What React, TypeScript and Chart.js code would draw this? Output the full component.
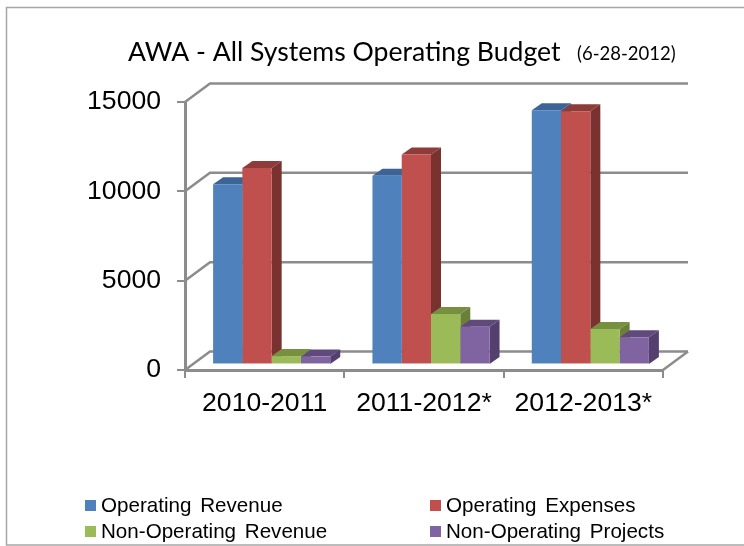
import React, { useEffect, useRef } from "react";
import { Chart, registerables } from "chart.js";

Chart.register(...registerables);

const categories = ["2010-2011", "2011-2012*", "2012-2013*"];
const operatingRevenue = [10120, 10590, 14260];
const operatingExpenses = [11030, 11780, 14200];
const nonOperatingRevenue = [500, 2850, 2010];
const nonOperatingProjects = [470, 2140, 1550];
const yTicks = [0, 5000, 10000, 15000];

const titleMain = "AWA - All Systems Operating Budget";
const titleDate = "(6-28-2012)";

const DEPTH_X = 10;
const DEPTH_Y = 7;
const SHIFT_X = 7;
const SHIFT_Y = -5;
const WALL_X = 25;
const WALL_Y = -18.5;
const GRID = "#8c8c8c";

const shades = [
  { front: "#4f81bd", top: "#3c6496", side: "#375a86" },
  { front: "#c0504d", top: "#8f3b39", side: "#7a3230" },
  { front: "#9bbb59", top: "#76903f", side: "#6a8039" },
  { front: "#8064a2", top: "#604a7b", side: "#543f6e" },
];

const frame = {
  id: "frame",
  beforeDraw(chart: any) {
    const c = chart.ctx;
    c.save();
    c.fillStyle = "#ffffff";
    c.fillRect(0, 0, chart.width, chart.height);
    c.strokeStyle = "#a6a6a6";
    c.lineWidth = 1.5;
    c.strokeRect(6.5, 7.5, 760, 537.5);
    c.fillStyle = "#000";
    c.textBaseline = "alphabetic";
    c.textAlign = "left";
    c.font = '26.6px "Lato"';
    c.fillText(titleMain, 128, 61);
    c.font = '18.5px "Lato"';
    c.fillText(titleDate, 577, 60);
    c.restore();
  },
};

const walls = {
  id: "walls",
  beforeDatasetsDraw(chart: any) {
    const c = chart.ctx;
    const { left, right, bottom } = chart.chartArea;
    const y = chart.scales.y;
    c.save();
    c.strokeStyle = GRID;
    c.lineWidth = 2.5;
    y.ticks.forEach((t: any) => {
      const py = y.getPixelForValue(t.value);
      c.beginPath();
      c.moveTo(left, py);
      c.lineTo(left + WALL_X, py + WALL_Y);
      c.lineTo(right + WALL_X, py + WALL_Y);
      c.stroke();
    });
    c.beginPath();
    c.moveTo(right, bottom);
    c.lineTo(right + WALL_X, bottom + WALL_Y);
    c.stroke();
    c.restore();
    c.save();
    c.translate(SHIFT_X, SHIFT_Y);
    // depth faces are painted first, left to right, so the fronts cover them
    chart.data.datasets.forEach((_d: any, i: number) => {
      const s = shades[i];
      chart.getDatasetMeta(i).data.forEach((b: any) => {
        const x0 = b.x - b.width / 2;
        const x1 = b.x + b.width / 2;
        c.fillStyle = s.top;
        c.beginPath();
        c.moveTo(x0, b.y);
        c.lineTo(x0 + DEPTH_X, b.y - DEPTH_Y);
        c.lineTo(x1 + DEPTH_X, b.y - DEPTH_Y);
        c.lineTo(x1, b.y);
        c.closePath();
        c.fill();
        c.fillStyle = s.side;
        c.beginPath();
        c.moveTo(x1, b.y);
        c.lineTo(x1 + DEPTH_X, b.y - DEPTH_Y);
        c.lineTo(x1 + DEPTH_X, b.base - DEPTH_Y);
        c.lineTo(x1, b.base);
        c.closePath();
        c.fill();
      });
    });
  },
  afterDatasetDraw(chart: any, args: any) {
    const c = chart.ctx;
    args.meta.data.forEach((b: any) => {
      const x0 = b.x - b.width / 2;
      c.fillStyle = "rgba(255,255,255,0.55)";
      c.fillRect(x0, b.base - 1, b.width, 2);
    });
  },
  afterDatasetsDraw(chart: any) {
    chart.ctx.restore();
  },
};

const legend2x2 = {
  id: "legend2x2",
  afterDraw(chart: any) {
    const c = chart.ctx;
    const cols = [85, 430];
    const rows = [500, 526];
    c.save();
    c.font = '20.6px "Liberation Sans"';
    (c as any).wordSpacing = "3px";
    c.textBaseline = "alphabetic";
    chart.data.datasets.forEach((d: any, i: number) => {
      const x = cols[i % 2];
      const y = rows[Math.floor(i / 2)];
      c.fillStyle = d.backgroundColor;
      c.fillRect(x, y, 11, 11);
      c.fillStyle = "#000";
      c.fillText(d.label, x + 16, y + 12);
    });
    c.restore();
  },
};

export default function App() {
  const ref = useRef<HTMLCanvasElement>(null);
  useEffect(() => {
    const series = [
      ["Operating Revenue", operatingRevenue],
      ["Operating Expenses", operatingExpenses],
      ["Non-Operating Revenue", nonOperatingRevenue],
      ["Non-Operating Projects", nonOperatingProjects],
    ] as const;
    const chart = new Chart(ref.current!, {
      type: "bar",
      data: {
        labels: categories,
        datasets: series.map(([label, data], i) => ({
          label,
          data: [...data],
          backgroundColor: shades[i].front,
          clip: false as any,
          borderWidth: 0,
          categoryPercentage: 0.735,
          barPercentage: 1,
        })),
      },
      options: {
        animation: false,
        responsive: false,
        layout: { padding: { top: 102, right: 81, left: 0, bottom: 0 } },
        plugins: {
          legend: { display: false },
          title: { display: false },
          tooltip: { enabled: false },
        },
        scales: {
          x: {
            afterFit: (s: any) => { s.height = 176; },
            grid: { drawOnChartArea: false, color: GRID, lineWidth: 2, tickLength: 8 },
            border: { color: GRID, width: 3 },
            ticks: {
              color: "#000",
              font: { family: "Liberation Sans", size: 26.6 },
              padding: 10,
              autoSkip: false,
              maxRotation: 0,
            },
          },
          y: {
            min: 0,
            max: 15000,
            afterFit: (s: any) => { s.width = 185; },
            afterBuildTicks: (s: any) => { s.ticks = yTicks.map((value) => ({ value })); },
            grid: { drawOnChartArea: false, color: GRID, lineWidth: 2, tickLength: 8 },
            border: { color: GRID, width: 3 },
            ticks: {
              color: "#000",
              font: { family: "Liberation Sans", size: 26.6 },
              padding: 16,
              callback: (v: any) => String(v),
            },
          },
        },
      },
      plugins: [frame, walls, legend2x2],
    });
    return () => chart.destroy();
  }, []);
  return (
    <div style={{ position: "absolute", left: 0, top: 0, width: 744, height: 546 }}>
      <canvas ref={ref} width={744} height={546} style={{ display: "block" }} />
    </div>
  );
}
